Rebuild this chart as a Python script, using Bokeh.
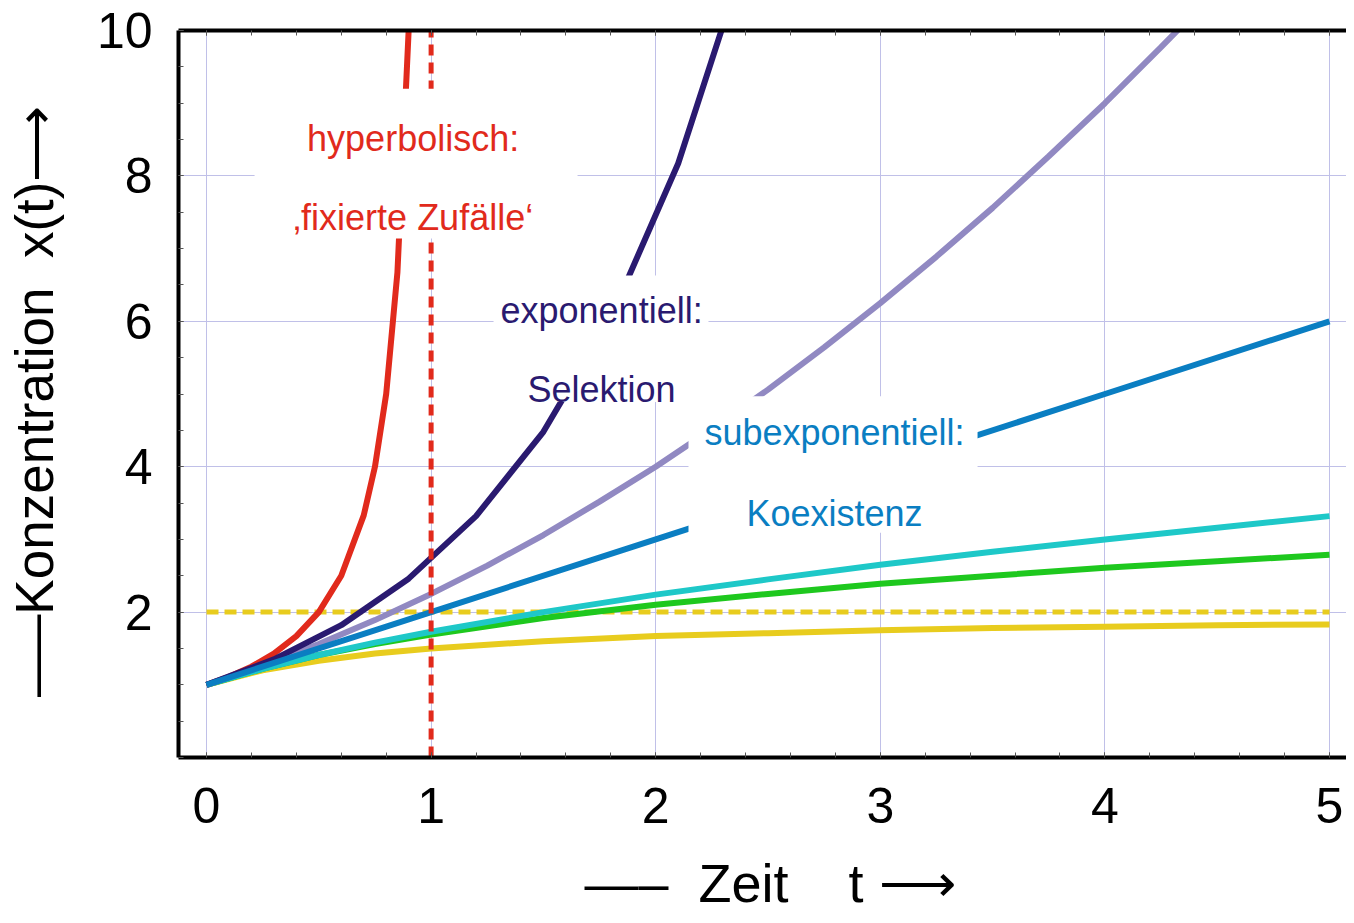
from bokeh.plotting import figure
from bokeh.models import Range1d, FixedTicker, LinearAxis, Label, BoxAnnotation
from bokeh.embed import file_html
from bokeh.resources import INLINE

# ---------------- data ----------------
x_ticks = [0, 1, 2, 3, 4, 5]
y_ticks = [2, 4, 6, 8, 10]
x_minor = [round(i * 0.2, 1) for i in range(26)]
y_minor = [round(i * 0.5, 1) for i in range(21)]

# hyperbolic growth ("fixierte Zufälle")
t_hyp = [0.0, 0.1, 0.2, 0.3, 0.4, 0.5, 0.6, 0.7, 0.75, 0.8, 0.85, 0.9]
x_hyp = [1.00, 1.11, 1.25, 1.43, 1.67, 2.00, 2.50, 3.33, 4.00, 5.00, 6.67, 10.0]

# exponential growth (Selektion)
t_exp = [0.0, 0.3, 0.6, 0.9, 1.2, 1.5, 1.8, 2.1, 2.4]
x_exp = [1.00, 1.35, 1.82, 2.46, 3.32, 4.48, 6.05, 8.17, 11.02]

# subexponential curves (Koexistenz)
t_sq = [0.0, 0.25, 0.5, 0.75, 1.0, 1.25, 1.5, 1.75, 2.0, 2.25, 2.5, 2.75, 3.0,
        3.25, 3.5, 3.75, 4.0, 4.25, 4.5]
x_sq = [1.00, 1.27, 1.56, 1.89, 2.25, 2.64, 3.06, 3.52, 4.00, 4.52, 5.06, 5.64,
        6.25, 6.89, 7.56, 8.27, 9.00, 9.77, 10.56]

t_lin = [0, 1, 2, 3, 4, 5]
x_lin = [1.0, 2.0, 3.0, 4.0, 5.0, 6.0]

t_sub = [0.0, 0.25, 0.5, 0.75, 1.0, 1.5, 2.0, 2.5, 3.0, 3.5, 4.0, 4.5, 5.0]
x_cyan = [1.00, 1.22, 1.41, 1.58, 1.73, 2.00, 2.24, 2.45, 2.65, 2.83, 3.00, 3.16, 3.32]
x_green = [1.00, 1.22, 1.41, 1.56, 1.69, 1.92, 2.10, 2.25, 2.39, 2.50, 2.61, 2.70, 2.79]
x_yellow = [1.00, 1.20, 1.33, 1.43, 1.50, 1.60, 1.67, 1.71, 1.75, 1.78, 1.80, 1.82, 1.83]

# reference lines
asym_t = [0, 5]
asym_x = [2, 2]
crit_t = [1, 1]
crit_x = [0, 10]

# ---------------- colours ----------------
RED = "#e12a1c"
NAVY = "#2a1a70"
LILAC = "#9189c2"
BLUE = "#0a7ec2"
CYAN = "#1ec8c8"
GREEN = "#1ec81e"
YELLOW = "#e8cc1e"
GRID = "#c0c0e8"
FONT = "Liberation Sans"
NB = "\u00a0"

p = figure(width=1346, height=915, output_backend="svg", toolbar_location=None,
           x_range=Range1d(-0.1247, 5.0757), y_range=Range1d(0, 10),
           min_border_left=178, min_border_right=0, min_border_top=30,
           min_border_bottom=157)
p.outline_line_color = None
p.background_fill_color = "white"
p.border_fill_color = "white"

xticker = FixedTicker(ticks=x_ticks, minor_ticks=x_minor)
yticker = FixedTicker(ticks=y_ticks, minor_ticks=y_minor)


def style(ax):
    ax.axis_line_width = 4
    ax.axis_line_color = "black"
    ax.major_tick_in = 5
    ax.major_tick_out = 0
    ax.minor_tick_in = 5
    ax.minor_tick_out = 0
    ax.major_tick_line_color = "#555555"
    ax.minor_tick_line_color = "#555555"
    ax.major_tick_line_width = 1
    ax.minor_tick_line_width = 1
    ax.major_label_text_font = FONT
    ax.major_label_text_color = "black"
    ax.major_label_text_font_size = "50px"
    ax.axis_label_text_font = FONT
    ax.axis_label_text_font_size = "53px"
    ax.axis_label_text_font_style = "normal"
    ax.axis_label_text_color = "black"


xa = p.xaxis[0]
xa.ticker = xticker
style(xa)
xa.major_label_standoff = 30
xa.axis_label = (NB + "\u2014\u2013" + NB * 2 + "Zeit" + NB * 4 + "t" + NB
                 + "\u27f6")
xa.axis_label_text_font_size = "54px"
xa.axis_label_standoff = 27

ya = p.yaxis[0]
ya.ticker = yticker
style(ya)
ya.major_label_standoff = 26
ya.axis_label = "\u2014\u2013Konzentration" + NB * 2 + "x(t)\u27f6" + NB
ya.axis_label_standoff = 30

top = LinearAxis(ticker=xticker)
style(top)
top.major_label_overrides = {v: "" for v in x_ticks}
top.major_label_text_font_size = "10px"
top.major_label_standoff = 0
p.add_layout(top, "above")

p.xgrid.ticker = xticker
p.ygrid.ticker = yticker
p.xgrid.grid_line_color = GRID
p.ygrid.grid_line_color = GRID
p.xgrid.grid_line_width = 1
p.ygrid.grid_line_width = 1

# ---------------- curves ----------------
LW = 6
p.line(asym_t, asym_x, line_color=YELLOW, line_width=5, line_dash="12 6")
p.line(t_sub, x_yellow, line_color=YELLOW, line_width=LW)
p.line(t_sub, x_green, line_color=GREEN, line_width=LW)
p.line(t_sub, x_cyan, line_color=CYAN, line_width=LW)
p.line(t_hyp, x_hyp, line_color=RED, line_width=LW)
p.line(t_sq, x_sq, line_color=LILAC, line_width=LW)
p.line(t_exp, x_exp, line_color=NAVY, line_width=LW)
p.line(t_lin, x_lin, line_color=BLUE, line_width=LW)
p.line(crit_t, crit_x, line_color=RED, line_width=5, line_dash="11 7")

# ---------------- white label boxes ----------------
for (l, r, b, t) in [(0.214, 1.652, 7.14, 9.20),
                     (1.278, 2.235, 4.89, 6.63),
                     (2.146, 3.433, 3.09, 4.97)]:
    p.add_layout(BoxAnnotation(left=l, right=r, bottom=b, top=t,
                               fill_color="white", fill_alpha=1.0,
                               line_color=None, line_alpha=0))


def lab(x, y, text, color, size="36px"):
    p.add_layout(Label(x=x, y=y, text=text, text_color=color, text_font=FONT,
                       text_font_size=size, text_align="center",
                       text_baseline="alphabetic"))


lab(0.92, 8.515, "hyperbolisch:", RED)
lab(0.92, 7.43, "\u201afixierte Zuf\u00e4lle\u2018", RED)
lab(1.759, 6.15, "exponentiell:", NAVY)
lab(1.759, 5.065, "Selektion", NAVY)
lab(2.796, 4.474, "subexponentiell:", BLUE)
lab(2.796, 3.36, "Koexistenz", BLUE)

open("out.html", "w").write(file_html(p, INLINE))
